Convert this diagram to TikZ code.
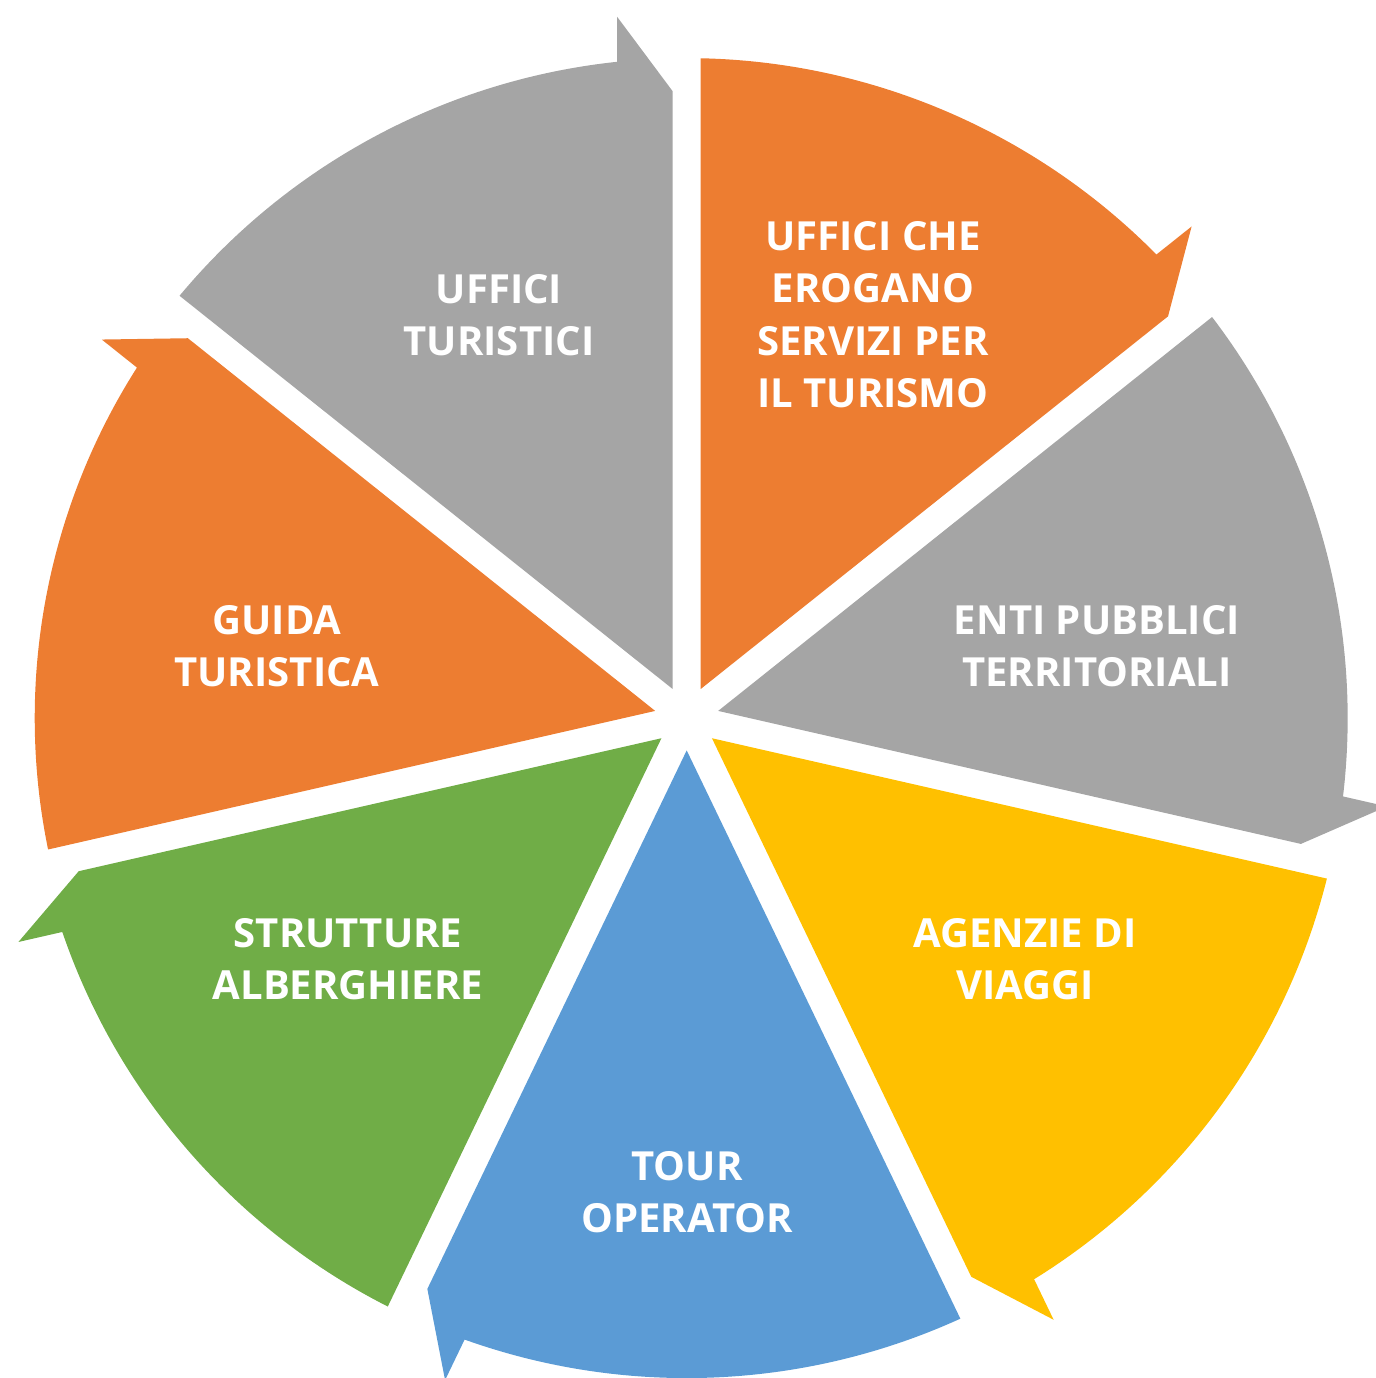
\documentclass[tikz,border=0pt]{standalone}
\usepackage{fontspec}
\setmainfont{Open Sans}
\definecolor{segorange}{HTML}{ED7D31}
\definecolor{seggray}{HTML}{A5A5A5}
\definecolor{segyellow}{HTML}{FFC000}
\definecolor{segblue}{HTML}{5B9BD5}
\definecolor{seggreen}{HTML}{70AD47}
\begin{document}
\begin{tikzpicture}[x=0.01cm,y=0.01cm,
  seglabel/.style={text=white, font=\bfseries\fontsize{11.4pt}{14.94pt}\selectfont, align=center, inner sep=0pt}]
\useasboundingbox (-686.7,-659.9) rectangle (689.3,718.1);
\foreach \k/\col/\rr in {0/segorange/660,1/seggray/661,2/segyellow/660,3/segblue/660,4/seggreen/660,5/segorange/652,6/seggray/660} {
  \pgfmathsetmacro\ts{90-51.428571*\k}
  \pgfmathsetmacro\te{\ts-51.428571}
  \pgfmathsetmacro\bi{\ts-25.714286}
  \pgfmathsetmacro\sa{\ts-asin(14/\rr)}
  \pgfmathsetmacro\ea{\te+6.05}
  \pgfmathsetmacro\ta{\te+1.28}
  \fill[\col] ({\bi}:32.3) -- ({\sa}:\rr) arc[start angle=\sa, end angle=\ea, radius=\rr] -- ++({\te}:45) -- ({\ta}:627) -- cycle;
}
\node[seglabel] (servizi) at (186.3,403.6) {UFFICI CHE\\EROGANO\\SERVIZI PER\\IL TURISMO};
\node[seglabel] (enti) at (410.3,72.1) {ENTI PUBBLICI\\TERRITORIALI};
\node[seglabel] (agenzie) at (338.3,-240.9) {AGENZIE DI\\VIAGGI};
\node[seglabel] (tour) at (0.3,-473.9) {TOUR\\OPERATOR};
\node[seglabel] (strutture) at (-338.7,-240.9) {STRUTTURE\\ALBERGHIERE};
\node[seglabel] (guida) at (-409.7,72.1) {GUIDA\\TURISTICA};
\node[seglabel] (uffici) at (-187.7,403.1) {UFFICI\\TURISTICI};
\end{tikzpicture}
\end{document}
